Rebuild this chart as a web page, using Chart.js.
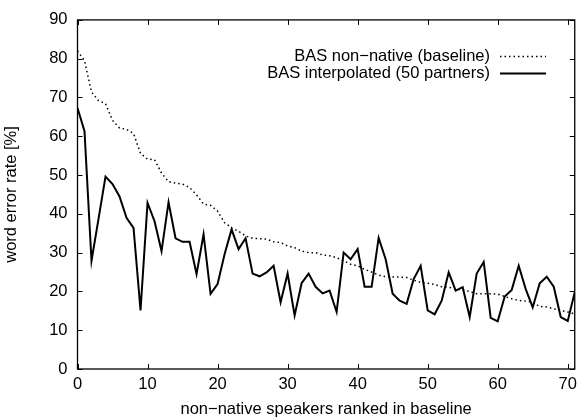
<!DOCTYPE html>
<html>
<head>
<meta charset="utf-8">
<script src="https://cdn.jsdelivr.net/npm/chart.js@4"></script>
<style>
html,body{margin:0;padding:0;background:#fff;}
#wrap{width:583px;height:419px;}
</style>
</head>
<body>
<div id="wrap"><canvas id="c" width="583" height="419"></canvas></div>
<script>
const speakers = [0,1,2,3,4,5,6,7,8,9,10,11,12,13,14,15,16,17,18,19,20,21,22,23,24,25,26,27,28,29,30,31,32,33,34,35,36,37,38,39,40,41,42,43,44,45,46,47,48,49,50,51,52,53,54,55,56,57,58,59,60,61,62,63,64,65,66,67,68,69,70,71];
const baseline = [82,79.5,71.4,69.2,68.4,64.1,62.1,61.8,60.7,55.6,54.1,54,50.5,48.3,47.9,47.7,46.8,44.9,42.5,42.2,40.7,37.7,36.4,35.5,34.3,33.7,33.6,33.5,32.8,32.6,31.7,31.3,30.4,30.0,30.0,29.4,29.2,28.7,27.9,27.0,26.6,25.7,25.0,24.2,23.8,23.7,23.7,23.6,22.9,22.3,22.1,21.8,21.2,21.1,20.6,20.4,20.0,19.4,19.4,19.4,19.3,18.7,18.1,17.7,17.5,17.2,16.1,16.0,15.5,15.1,14.7,14.2];
const interpolated = [67.3,61.3,27.9,38.7,49.6,47.7,44.5,39,36.4,15.1,42.8,38.1,30.4,43.0,33.7,32.8,32.8,24.5,34.7,19.4,21.9,29.6,36,30.9,33.7,24.6,23.9,24.9,26.6,17.2,24.6,13.8,22.1,24.6,21.2,19.5,20.2,14.7,30,28.3,30.9,21.2,21.2,33.8,28.3,19.4,17.6,16.8,23.2,26.6,15.1,14.1,17.6,24.9,20.2,21.1,13.4,24.6,27.6,13.2,12.3,18.7,20.4,26.6,20.6,15.9,22.1,23.8,21.2,13.4,12.4,19.8];
const xTicks = [0,10,20,30,40,50,60,70];
const yTicks = [0,10,20,30,40,50,60,70,80,90];
const seriesNames = ["BAS non\u2212native (baseline)", "BAS interpolated (50 partners)"];
const xTitle = "non\u2212native speakers ranked in baseline";
const yTitle = "word error rate [%]";

const FONT = "'Liberation Sans', Arial, Helvetica, sans-serif";
const FS = 16.5;

const frameTicks = {
  id: 'frameTicks',
  afterDatasetsDraw(chart) {
    const ctx = chart.ctx, a = chart.chartArea;
    const xs = chart.scales.x, ys = chart.scales.y;
    ctx.save();
    ctx.strokeStyle = '#000';
    ctx.lineWidth = 1;
    const L = 5;
    ctx.beginPath();
    xTicks.forEach(v => {
      const p = Math.round(xs.getPixelForValue(v)) + 0.5;
      ctx.moveTo(p, a.bottom); ctx.lineTo(p, a.bottom - L);
      ctx.moveTo(p, a.top); ctx.lineTo(p, a.top + L);
    });
    yTicks.forEach(v => {
      const p = Math.round(ys.getPixelForValue(v)) + 0.5;
      ctx.moveTo(a.left, p); ctx.lineTo(a.left + L, p);
      ctx.moveTo(a.right, p); ctx.lineTo(a.right - L, p);
    });
    ctx.stroke();
    ctx.lineWidth = 1.3;
    ctx.strokeRect(a.left, a.top, a.right - a.left, a.bottom - a.top);
    // legend
    ctx.font = FS + 'px ' + FONT;
    ctx.fillStyle = '#000';
    ctx.textAlign = 'right';
    ctx.textBaseline = 'middle';
    const rows = [56, 73];
    const styles = [{w:1.5, dash:[1.5,3]}, {w:2, dash:[]}];
    rows.forEach((y, i) => {
      ctx.fillText(seriesNames[i], 490, y);
      ctx.beginPath();
      ctx.lineWidth = styles[i].w;
      ctx.setLineDash(styles[i].dash);
      ctx.moveTo(500, y + 0.5); ctx.lineTo(546, y + 0.5);
      ctx.stroke();
    });
    ctx.setLineDash([]);
    ctx.restore();
  }
};

new Chart(document.getElementById('c'), {
  type: 'line',
  data: {
    datasets: [
      {
        label: seriesNames[0],
        data: speakers.map((s, i) => ({x: s, y: baseline[i]})),
        borderColor: '#000',
        borderWidth: 1.5,
        borderDash: [1.5, 3],
        pointRadius: 0,
        tension: 0,
        fill: false
      },
      {
        label: seriesNames[1],
        data: speakers.map((s, i) => ({x: s, y: interpolated[i]})),
        borderColor: '#000',
        borderWidth: 2,
        pointRadius: 0,
        tension: 0,
        fill: false
      }
    ]
  },
  options: {
    responsive: false,
    animation: false,
    devicePixelRatio: 1,
    layout: {padding: {top: 17, right: 6, left: 0, bottom: 0}},
    plugins: {legend: {display: false}, tooltip: {enabled: false}},
    scales: {
      x: {
        type: 'linear', min: 0, max: 71,
        afterFit(s) { s.height = 50; },
        grid: {display: false, drawTicks: false},
        border: {display: false},
        ticks: {stepSize: 10, includeBounds: false, padding: 6, color: '#000', maxRotation: 0,
                font: {family: FONT, size: FS}, callback: v => xTicks.includes(v) ? String(v) : null},
        title: {display: true, text: xTitle, color: '#000', font: {family: FONT, size: FS}, padding: {top: 2, bottom: 0}}
      },
      y: {
        min: 0, max: 90,
        afterFit(s) { s.width = 77.5; },
        grid: {display: false, drawTicks: false},
        border: {display: false},
        ticks: {stepSize: 10, padding: 10, color: '#000', font: {family: FONT, size: FS},
                callback: v => yTicks.includes(v) ? String(v) : null},
        title: {display: true, text: yTitle, color: '#000', font: {family: FONT, size: FS}, padding: {top: 2, bottom: 8}}
      }
    }
  },
  plugins: [frameTicks]
});
</script>
</body>
</html>
